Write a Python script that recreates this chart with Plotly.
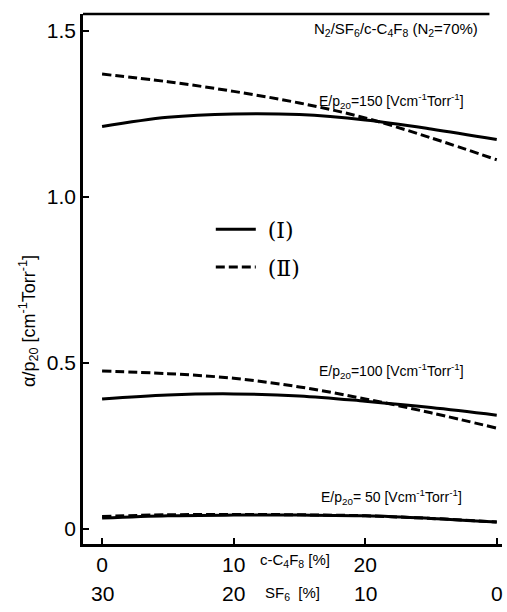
import plotly.graph_objects as go

# ---- data ----
c4f8 = [0, 5, 10, 15, 20, 25, 30]          # c-C4F8 [%]
sf6_tick_labels = ["30", "20", "10", "0"]  # SF6 [%] at c-C4F8 = 0,10,20,30
c4f8_ticks = [0, 10, 20, 30]
c4f8_tick_labels = ["0", "10", "20", "30"]
y_ticks = [0, 0.5, 1.0, 1.5]
y_tick_labels = ["0", "0.5", "1.0", "1.5"]

solid_150 = [1.212, 1.240, 1.250, 1.248, 1.232, 1.205, 1.173]
dashed_150 = [1.370, 1.347, 1.318, 1.283, 1.238, 1.178, 1.112]
solid_100 = [0.392, 0.404, 0.407, 0.401, 0.385, 0.366, 0.343]
dashed_100 = [0.476, 0.468, 0.454, 0.428, 0.392, 0.350, 0.304]
solid_50 = [0.033, 0.040, 0.042, 0.042, 0.040, 0.032, 0.021]
dashed_50 = [0.038, 0.043, 0.044, 0.043, 0.040, 0.032, 0.021]

FONT = "Liberation Sans, Arial, sans-serif"
SERIF = "DejaVu Serif, Liberation Serif, serif"

fig = go.Figure()
dash = "9px,4px"
series = [
    (solid_150, "solid", True, " (Ⅰ)", "g1"),
    (solid_100, "solid", False, "", "g1"),
    (solid_50, "solid", False, "", "g1"),
    (dashed_150, dash, True, " (Ⅱ)", "g2"),
    (dashed_100, dash, False, "", "g2"),
    (dashed_50, dash, False, "", "g2"),
]
for ys, d, show, name, grp in series:
    fig.add_trace(go.Scatter(
        x=c4f8, y=ys, mode="lines", name=name, showlegend=show, legendgroup=grp,
        line=dict(color="black", width=3, dash=d, shape="spline"),
    ))

ann = []
# second row of x labels (SF6)
for xv, lab in zip(c4f8_ticks, sf6_tick_labels):
    ann.append(dict(x=xv, y=-0.094, xref="x", yref="paper", text=lab,
                    showarrow=False, font=dict(size=21, family=FONT, color="black"),
                    xanchor="center", yanchor="middle"))
ann.append(dict(x=14.7, y=-0.032, xref="x", yref="paper",
                text="c-C<sub>4</sub>F<sub>8</sub> [%]", showarrow=False,
                font=dict(size=15, family=FONT, color="black"), xanchor="center", yanchor="middle"))
ann.append(dict(x=14.5, y=-0.094, xref="x", yref="paper",
                text="SF<sub>6</sub>  [%]", showarrow=False,
                font=dict(size=15, family=FONT, color="black"), xanchor="center", yanchor="middle"))
ann.append(dict(x=-0.13, y=0.42, xref="paper", yref="paper", textangle=-90,
                text="α/p<sub>20</sub> [cm<sup>-1</sup>Torr<sup>-1</sup>]", showarrow=False,
                font=dict(size=18, family=FONT, color="black"), xanchor="center", yanchor="middle"))
ann.append(dict(x=(396 - 83) / 419, y=1.505, xref="paper", yref="y",
                text="N<sub>2</sub>/SF<sub>6</sub>/c-C<sub>4</sub>F<sub>8</sub> (N<sub>2</sub>=70%)",
                showarrow=False, font=dict(size=15, family=FONT, color="black"),
                xanchor="center", yanchor="middle"))
for lab, yv in [("150", 1.29), ("100", 0.475), (" 50", 0.098)]:
    ann.append(dict(x=(391 - 83) / 419, y=yv, xref="paper", yref="y",
                    text=f"E/p<sub>20</sub>={lab} [Vcm<sup>-1</sup>Torr<sup>-1</sup>]",
                    showarrow=False, font=dict(size=14, family=FONT, color="black"),
                    xanchor="center", yanchor="middle"))

fig.update_layout(
    width=507, height=612,
    margin=dict(l=83, r=5, t=14, b=68),
    paper_bgcolor="white", plot_bgcolor="white",
    annotations=ann,
    shapes=[dict(type="line", xref="paper", yref="paper", x0=0, x1=0.97, y0=1, y1=1,
                 line=dict(color="black", width=2.5))],
    legend=dict(x=0.305, y=0.633, xanchor="left", yanchor="top",
                font=dict(size=22, family=SERIF, color="black"),
                bgcolor="rgba(0,0,0,0)", itemwidth=40, tracegroupgap=6),
    xaxis=dict(range=[-1.45, 30.4], tickvals=c4f8_ticks, ticktext=c4f8_tick_labels,
               ticks="inside", ticklen=6, tickwidth=2, tickcolor="black",
               showline=True, linecolor="black", linewidth=2.5, showgrid=False, zeroline=False,
               tickfont=dict(size=21, family=FONT, color="black")),
    yaxis=dict(range=[-0.045, 1.551], tickvals=y_ticks, ticktext=y_tick_labels,
               ticks="inside", ticklen=6, tickwidth=2, tickcolor="black",
               showline=True, linecolor="black", linewidth=2.5, showgrid=False, zeroline=False,
               tickfont=dict(size=21, family=FONT, color="black")),
)

fig.write_html("out.html")
